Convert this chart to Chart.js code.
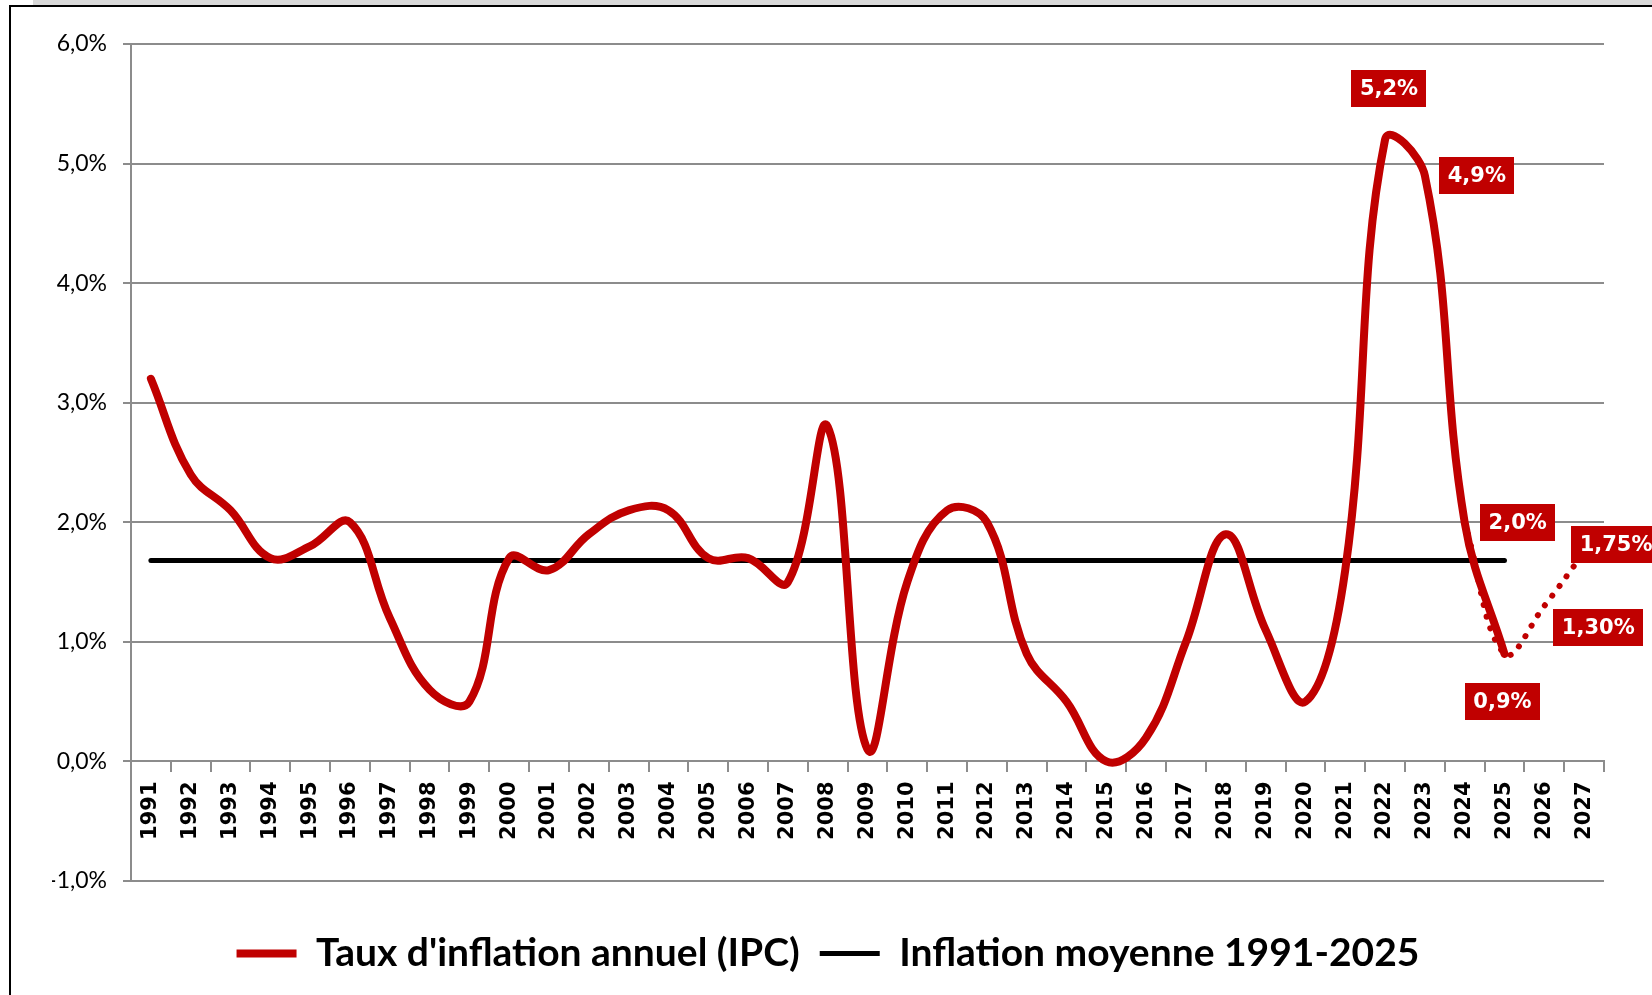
<!DOCTYPE html>
<html lang="fr">
<head>
<meta charset="utf-8">
<title>Taux d'inflation annuel (IPC)</title>
<script src="https://cdn.jsdelivr.net/npm/chart.js@4.4.1/dist/chart.umd.min.js"></script>
<style>
  body { margin: 0; background: #fff; overflow: hidden; }
  #strip { position: absolute; left: 33px; top: 0; width: 1619px; height: 5px; background: #d9d9d9; }
  #frame { position: absolute; left: 9px; top: 5px; width: 1700px; height: 1000px;
           border-left: 2px solid #000; border-top: 2px solid #000; }
  canvas { display: block; }
</style>
</head>
<body>
<div id="strip"></div>
<div id="frame"><canvas id="chart" width="1641" height="988"></canvas></div>
<script>
// annees de l'axe x
const years = ['1991','1992','1993','1994','1995','1996','1997','1998','1999','2000',
  '2001','2002','2003','2004','2005','2006','2007','2008','2009','2010',
  '2011','2012','2013','2014','2015','2016','2017','2018','2019','2020',
  '2021','2022','2023','2024','2025','2026','2027'];

// taux d'inflation annuel (%) 1991-2025
const inflation = [3.2, 2.4, 2.1, 1.7, 1.8, 2.0, 1.2, 0.6, 0.5, 1.7,
  1.6, 1.9, 2.1, 2.1, 1.7, 1.7, 1.5, 2.8, 0.1, 1.5,
  2.1, 2.0, 0.9, 0.5, 0.0, 0.2, 1.0, 1.9, 1.1, 0.5,
  1.6, 5.2, 4.9, 2.0, 0.9];

// moyenne 1991-2025 (ligne noire)
const moyenne = [1.68, 1.68, 1.68, 1.68, 1.68, 1.68, 1.68, 1.68, 1.68, 1.68,
  1.68, 1.68, 1.68, 1.68, 1.68, 1.68, 1.68, 1.68, 1.68, 1.68,
  1.68, 1.68, 1.68, 1.68, 1.68, 1.68, 1.68, 1.68, 1.68, 1.68,
  1.68, 1.68, 1.68, 1.68, 1.68];

// prevision (pointilles)
const forecastYears = ['2024', '2025', '2026', '2027'];
const forecastValues = [2.0, 0.9, 1.3, 1.75];

// etiquettes rouges
const labelYears = ['2022', '2023', '2024', '2025', '2026', '2027'];
const labelTexts = ['5,2%', '4,9%', '2,0%', '0,9%', '1,30%', '1,75%'];

const RED = '#c00000';
const GRID = '#8c8c8c';

// position de chaque etiquette par rapport a son point (centre de la boite)
const labelOffsets = {
  '2022': { ds: 0, dx: 4, dy: -51 },
  '2023': { ds: 0, dx: 52, dy: 0 },
  '2024': { ds: 0, dx: 53, dy: 0 },
  '2025': { ds: 0, dx: -2, dy: 48 },
  '2026': { ds: 2, dx: 54, dy: 22 },
  '2027': { ds: 2, dx: 32, dy: -8 }
};

const pointLabels = {
  id: 'pointLabels',
  afterDatasetsDraw(chart) {
    const ctx = chart.ctx;
    ctx.save();
    ctx.font = 'bold 21px "DejaVu Sans"';
    ctx.textAlign = 'center';
    ctx.textBaseline = 'middle';
    labelYears.forEach((yr, k) => {
      const o = labelOffsets[yr];
      const meta = chart.getDatasetMeta(o.ds);
      const idx = o.ds === 2 ? forecastYears.indexOf(yr) : years.indexOf(yr);
      const pt = meta.data[idx];
      if (!pt) return;
      const w = ctx.measureText(labelTexts[k]).width + 17;
      const h = 37;
      const cx = pt.x + o.dx, cy = pt.y + o.dy;
      ctx.fillStyle = RED;
      ctx.fillRect(Math.round(cx - w / 2), Math.round(cy - h / 2), Math.round(w), h);
      ctx.fillStyle = '#fff';
      ctx.fillText(labelTexts[k], cx, cy + 1);
    });
    ctx.restore();
  }
};

const ctx = document.getElementById('chart').getContext('2d');
const chart = new Chart(ctx, {
  type: 'line',
  data: {
    labels: years,
    datasets: [
      {
        label: "Taux d'inflation annuel (IPC)",
        data: inflation,
        borderColor: RED,
        backgroundColor: RED,
        borderWidth: 8,
        borderCapStyle: 'round',
        borderJoinStyle: 'round',
        tension: 0.4,
        pointRadius: 0
      },
      {
        label: 'Inflation moyenne 1991-2025',
        data: moyenne,
        borderColor: '#000',
        backgroundColor: '#000',
        borderWidth: 5,
        borderCapStyle: 'round',
        tension: 0,
        pointRadius: 0
      },
      {
        label: 'prevision',
        data: forecastYears.map((y, i) => ({ x: y, y: forecastValues[i] })),
        borderColor: RED,
        borderWidth: 6,
        borderCapStyle: 'round',
        borderDash: [0.1, 12],
        tension: 0.4,
        pointRadius: 0
      }
    ]
  },
  options: {
    responsive: false,
    animation: false,
    // padding gauche + largeur axe y = 120 (bord gauche du graphe)
    layout: { padding: { left: 41, right: 48, top: 37, bottom: 12 } },
    plugins: {
      tooltip: { enabled: false },
      legend: {
        position: 'bottom',
        title: { display: true, text: '', font: { size: 10, lineHeight: 1 }, padding: { top: 23, bottom: 0 } },
        labels: {
          filter: item => item.datasetIndex < 2,
          usePointStyle: true,
          pointStyle: 'line',
          pointStyleWidth: 60,
          padding: 20,
          color: '#000',
          font: { family: 'Lato', weight: 'bold', size: 39 }
        }
      }
    },
    scales: {
      x: {
        position: { y: 0 },
        offset: true,
        grid: { offset: true, drawOnChartArea: false, drawTicks: true, tickLength: 10, color: GRID, lineWidth: 2 },
        border: { display: true, color: GRID, width: 2 },
        ticks: {
          minRotation: 90, maxRotation: 90, autoSkip: false, padding: 10,
          color: '#000',
          font: { family: 'DejaVu Sans', weight: 'bold', size: 21 }
        }
      },
      y: {
        min: -1, max: 6,
        ticks: {
          stepSize: 1, padding: 16, color: '#000',
          font: { family: 'Lato', size: 23 },
          callback: v => v.toFixed(1).replace('.', ',') + '%'
        },
        grid: { color: GRID, lineWidth: 2, tickLength: 8 },
        border: { display: true, color: GRID, width: 2 },
        afterFit: scale => { scale.width = 79; }
      }
    }
  },
  plugins: [pointLabels]
});
</script>
</body>
</html>
